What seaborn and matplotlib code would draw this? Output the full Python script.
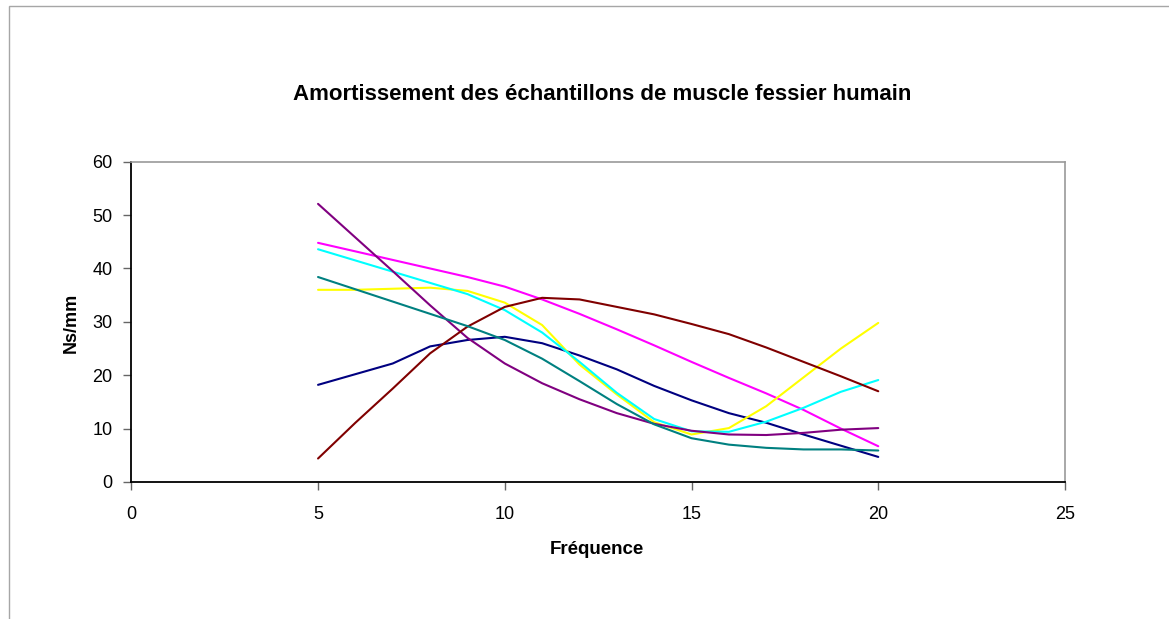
import matplotlib
matplotlib.use("Agg")
import numpy as np
import pandas as pd
import matplotlib.pyplot as plt
from matplotlib.patches import Rectangle
import seaborn as sns

# values at each integer frequency
freq = [5, 6, 7, 8, 9, 10, 11, 12, 13, 14, 15, 16, 17, 18, 19, 20]
s_navy = [18.2, 20.2, 22.2, 25.4, 26.6, 27.2, 26.0, 23.7, 21.1, 18.0, 15.3, 12.9, 11.1, 8.9, 6.8, 4.7]
s_magenta = [44.8, 43.2, 41.6, 40.0, 38.4, 36.6, 34.2, 31.5, 28.6, 25.6, 22.5, 19.5, 16.6, 13.5, 10.0, 6.7]
s_yellow = [36.0, 36.0, 36.2, 36.4, 35.8, 33.6, 29.4, 22.0, 16.4, 11.2, 8.9, 10.1, 14.2, 19.6, 25.0, 29.8]
s_cyan = [43.6, 41.5, 39.4, 37.3, 35.2, 32.2, 28.0, 22.5, 16.7, 11.8, 9.5, 9.4, 11.3, 13.9, 16.9, 19.1]
s_purple = [52.1, 45.8, 39.5, 33.1, 27.0, 22.2, 18.5, 15.5, 12.9, 10.9, 9.6, 8.9, 8.8, 9.2, 9.8, 10.1]
s_darkred = [4.4, 11.1, 17.5, 24.1, 29.1, 32.8, 34.5, 34.2, 32.8, 31.4, 29.6, 27.7, 25.2, 22.5, 19.8, 17.0]
s_teal = [38.4, 36.1, 33.8, 31.5, 29.2, 26.6, 23.1, 18.9, 14.6, 10.8, 8.2, 7.0, 6.4, 6.1, 6.1, 5.9]

series = {
    "Série1": s_navy,
    "Série2": s_magenta,
    "Série3": s_yellow,
    "Série4": s_cyan,
    "Série5": s_purple,
    "Série6": s_darkred,
    "Série7": s_teal,
}
colors = ["#000080", "#FF00FF", "#FFFF00", "#00FFFF", "#800080", "#800000", "#008080"]

df = pd.concat([pd.DataFrame({"Fréquence": freq, "Ns/mm": v, "serie": k})
                for k, v in series.items()])

sns.set_style("white")
plt.rcParams['font.family'] = ['Liberation Sans', 'DejaVu Sans']
plt.rcParams['text.color'] = 'black'
plt.rcParams['xtick.labelcolor'] = 'black'
plt.rcParams['ytick.labelcolor'] = 'black'

fig = plt.figure(figsize=(11.69, 6.19), dpi=100)
ax = fig.add_axes([131.3 / 1169, 1 - 482 / 619, (1065 - 131.3) / 1169, (482 - 161.7) / 619])

sns.lineplot(data=df, x="Fréquence", y="Ns/mm", hue="serie", palette=colors,
             linewidth=1.5, legend=False, ax=ax)

ax.set_xlim(0, 25)
ax.set_ylim(0, 60)
ax.set_xticks([0, 5, 10, 15, 20, 25])
ax.set_yticks([0, 10, 20, 30, 40, 50, 60])
ax.set_xlabel("")
ax.set_ylabel("")

for side in ["left", "bottom"]:
    ax.spines[side].set_color("black")
    ax.spines[side].set_linewidth(1.3)
for side in ["top", "right"]:
    ax.spines[side].set_color("#999999")
    ax.spines[side].set_linewidth(1.2)
ax.tick_params(direction="out", length=6, width=1, color="#666666",
               labelsize=13, left=True, bottom=True)
ax.tick_params(axis="y", pad=7.5)
ax.tick_params(axis="x", pad=11)

fig.text(602 / 1169, 1 - 95 / 619, "Amortissement des échantillons de muscle fessier humain",
         ha="center", va="center", fontsize=16, fontweight="bold")
fig.text(597 / 1169, 1 - 549 / 619, "Fréquence", ha="center", va="center",
         fontsize=13.5, fontweight="bold")
fig.text(71 / 1169, 1 - 323 / 619, "Ns/mm", ha="center", va="center", rotation=90,
         fontsize=13, fontweight="bold")

# chart area border
fig.patches.append(Rectangle((9 / 1169, -0.1), 1.2, 1.1 - 6 / 619, transform=fig.transFigure,
                             fill=False, edgecolor="#a6a6a6", linewidth=1))

fig.savefig("out.png", dpi=100)
